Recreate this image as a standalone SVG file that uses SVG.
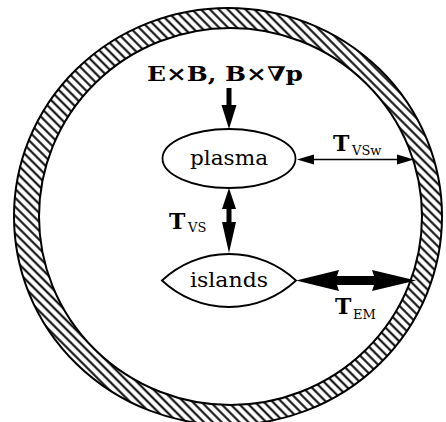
<svg xmlns="http://www.w3.org/2000/svg" width="446" height="422" viewBox="0 0 446 422">
  <defs>
    <pattern id="hatch" patternUnits="userSpaceOnUse" width="6.3" height="6.3" patternTransform="rotate(45)">
      <rect width="6.3" height="6.3" fill="#fff"/>
      <line x1="-1" y1="3.15" x2="7.3" y2="3.15" stroke="#000" stroke-width="2"/>
    </pattern>
  </defs>
  <style>
    .node { fill: #fff; stroke: #000; stroke-width: 1.8; }
    .lbl { font-family: "DejaVu Serif", "Liberation Serif", serif; fill: #000; }
    .bold { font-family: "DejaVu Serif", "Liberation Serif", serif; font-weight: bold; fill: #000; }
    .sub { font-family: "DejaVu Serif", "Liberation Serif", serif; fill: #000; font-size: 13px; }
    .arr { fill: #000; stroke: none; }
  </style>
  <rect width="446" height="422" fill="#fff"/>

  <g id="wall">
    <path d="M14,216.5 A214,208.5 0 1,0 442,216.5 A214,208.5 0 1,0 14,216.5 Z M39,216.5 A191.5,188.5 0 1,0 422,216.5 A191.5,188.5 0 1,0 39,216.5 Z" fill="url(#hatch)" fill-rule="evenodd" stroke="#000" stroke-width="2"/>
  </g>

  <g id="connectors">
    <!-- ExB drive arrow into plasma -->
    <rect class="arr" x="226.5" y="88" width="5" height="19"/>
    <polygon class="arr" points="221.5,105 236.5,105 229,129"/>
    <!-- T_VS vertical double arrow -->
    <polygon class="arr" points="229,188 236,209 231.5,209 231.5,222 236,222 229,253 222,222 226.5,222 226.5,209 222,209"/>
    <!-- T_VSw thin double arrow -->
    <line x1="310" y1="159.5" x2="400" y2="159.5" stroke="#000" stroke-width="1.6"/>
    <polygon class="arr" points="297,159.5 314,154.5 314,164.5"/>
    <polygon class="arr" points="414,159.5 397,154.5 397,164.5"/>
    <!-- T_EM thick double arrow -->
    <polygon class="arr" points="296,280.5 339,270 337,276 374,276 372,270 416,280.5 372,291 374,285 337,285 339,291"/>
  </g>

  <g id="plasma">
    <ellipse class="node" cx="229" cy="158.5" rx="66.5" ry="29.5"/>
    <text class="lbl" x="229" y="165" font-size="21" text-anchor="middle" textLength="78" lengthAdjust="spacingAndGlyphs">plasma</text>
  </g>

  <g id="islands">
    <path class="node" d="M162,280.5 A98,98 0 0,1 296,280.5 A98,98 0 0,1 162,280.5 Z"/>
    <text class="lbl" x="229" y="287" font-size="21" text-anchor="middle" textLength="78" lengthAdjust="spacingAndGlyphs">islands</text>
  </g>

  <g id="labels">
    <text class="bold" x="147" y="81" font-size="20" textLength="156" lengthAdjust="spacingAndGlyphs">E×B, B×∇p</text>
    <text class="bold" x="169" y="229" font-size="22">T</text>
    <text class="sub" x="188" y="232">VS</text>
    <text class="bold" x="333" y="151" font-size="22">T</text>
    <text class="sub" x="352" y="155">VSw</text>
    <text class="bold" x="335" y="314" font-size="22">T</text>
    <text class="sub" x="353" y="319">EM</text>
  </g>
</svg>
